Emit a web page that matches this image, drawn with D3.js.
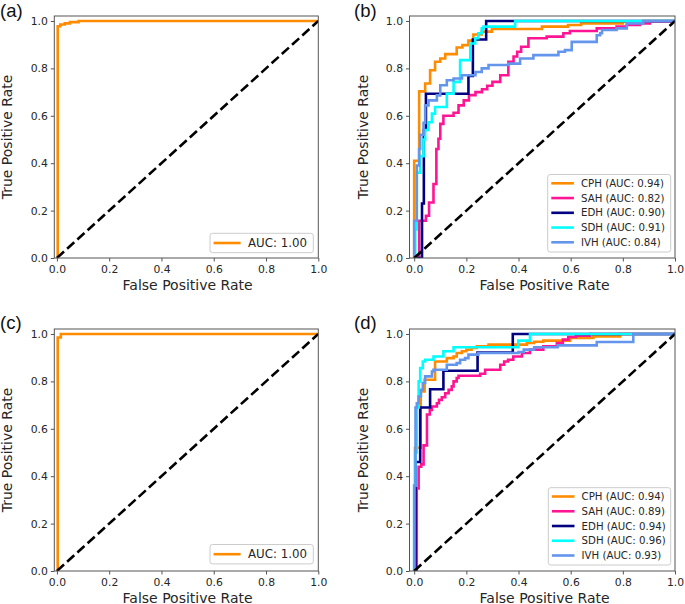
<!DOCTYPE html>
<html><head><meta charset="utf-8">
<script src="https://cdn.jsdelivr.net/npm/d3@7"></script>
<style>body{margin:0;background:#fff}svg{display:block}</style>
</head><body>
<svg id="chart" width="685" height="604"></svg>
<script>
// ---------- data (step points: fpr where tpr rises, tpr after the rise) ----------
const tickValues = [0.0, 0.2, 0.4, 0.6, 0.8, 1.0];
const xLabel = "False Positive Rate";
const yLabel = "True Positive Rate";
const classNames = ["CPH", "SAH", "EDH", "SDH", "IVH"];
const aucB = [0.94, 0.82, 0.90, 0.91, 0.84];
const aucD = [0.94, 0.89, 0.94, 0.96, 0.93];
const aucA = 1.00, aucC = 1.00;

const fprA = [0.003, 0.013, 0.030, 0.050, 0.083, 1.000];
const tprA = [0.978, 0.985, 0.990, 0.995, 1.000, 1.000];
const fprC = [0.003, 0.015, 1.000];
const tprC = [0.985, 1.000, 1.000];

const fprCPH_b = [0.000, 0.019, 0.042, 0.061, 0.080, 0.100, 0.119, 0.163, 0.185, 0.208, 0.227, 0.259, 0.298, 0.490, 0.590, 0.640, 0.800, 0.880, 1.000];
const tprCPH_b = [0.410, 0.703, 0.736, 0.792, 0.828, 0.842, 0.860, 0.888, 0.898, 0.917, 0.943, 0.955, 0.966, 0.976, 0.983, 0.990, 0.997, 1.000, 1.000];
const fprSAH_b = [0.019, 0.045, 0.057, 0.074, 0.085, 0.093, 0.100, 0.112, 0.151, 0.170, 0.190, 0.210, 0.235, 0.260, 0.280, 0.300, 0.330, 0.361, 0.381, 0.395, 0.410, 0.438, 0.508, 0.572, 0.597, 0.700, 0.776, 0.815, 0.866, 0.904, 1.000];
const tprSAH_b = [0.157, 0.178, 0.234, 0.312, 0.460, 0.503, 0.566, 0.600, 0.613, 0.644, 0.665, 0.687, 0.700, 0.712, 0.727, 0.743, 0.771, 0.828, 0.850, 0.870, 0.891, 0.927, 0.934, 0.948, 0.958, 0.969, 0.976, 0.983, 0.990, 0.997, 1.000];
const fprEDH_b = [0.030, 0.037, 0.045, 0.208, 0.225, 0.276, 1.000];
const tprEDH_b = [0.230, 0.540, 0.693, 0.768, 0.922, 1.000, 1.000];
const fprSDH_b = [0.004, 0.010, 0.023, 0.036, 0.042, 0.055, 0.068, 0.080, 0.125, 0.151, 0.176, 0.215, 0.234, 0.246, 0.259, 0.266, 0.387, 1.000];
const tprSDH_b = [0.120, 0.360, 0.430, 0.500, 0.540, 0.573, 0.609, 0.637, 0.693, 0.743, 0.835, 0.905, 0.927, 0.948, 0.969, 0.976, 1.000, 1.000];
const fprIVH_b = [0.000, 0.010, 0.019, 0.023, 0.036, 0.042, 0.055, 0.087, 0.100, 0.125, 0.151, 0.183, 0.235, 0.259, 0.285, 0.361, 0.406, 0.457, 0.553, 0.578, 0.604, 0.700, 0.713, 0.720, 0.776, 0.815, 0.878, 1.000];
const tprIVH_b = [0.157, 0.390, 0.460, 0.520, 0.570, 0.644, 0.665, 0.686, 0.729, 0.750, 0.757, 0.771, 0.785, 0.800, 0.814, 0.820, 0.842, 0.856, 0.870, 0.877, 0.912, 0.940, 0.948, 0.962, 0.969, 0.990, 1.000, 1.000];

const fprCPH_d = [0.003, 0.025, 0.040, 0.080, 0.125, 0.151, 0.163, 0.183, 0.200, 0.220, 0.240, 0.285, 0.432, 0.460, 0.495, 0.598, 0.687, 0.790, 1.000];
const tprCPH_d = [0.520, 0.757, 0.807, 0.884, 0.898, 0.905, 0.920, 0.927, 0.934, 0.941, 0.948, 0.955, 0.962, 0.967, 0.972, 0.983, 0.990, 1.000, 1.000];
const fprSAH_d = [0.010, 0.017, 0.027, 0.036, 0.049, 0.060, 0.068, 0.087, 0.095, 0.106, 0.119, 0.132, 0.144, 0.151, 0.163, 0.170, 0.253, 0.272, 0.330, 0.345, 0.360, 0.380, 0.413, 0.444, 0.495, 0.547, 0.570, 0.591, 0.620, 0.674, 1.000];
const tprSAH_d = [0.348, 0.440, 0.450, 0.530, 0.660, 0.680, 0.694, 0.708, 0.722, 0.733, 0.750, 0.764, 0.779, 0.800, 0.814, 0.824, 0.832, 0.849, 0.870, 0.884, 0.891, 0.905, 0.920, 0.934, 0.948, 0.962, 0.976, 0.987, 0.993, 1.000, 1.000];
const fprEDH_d = [0.005, 0.023, 0.061, 0.112, 0.243, 0.378, 1.000];
const tprEDH_d = [0.460, 0.690, 0.767, 0.845, 0.922, 1.000, 1.000];
const fprSDH_d = [0.000, 0.004, 0.010, 0.017, 0.023, 0.033, 0.042, 0.074, 0.112, 0.151, 0.399, 0.444, 1.000];
const tprSDH_d = [0.360, 0.500, 0.690, 0.800, 0.856, 0.884, 0.891, 0.905, 0.927, 0.944, 0.972, 1.000, 1.000];
const fprIVH_d = [0.000, 0.005, 0.010, 0.017, 0.026, 0.033, 0.042, 0.068, 0.074, 0.125, 0.163, 0.176, 0.195, 0.208, 0.246, 0.400, 0.420, 0.460, 0.550, 0.700, 0.840, 1.000];
const tprIVH_d = [0.360, 0.690, 0.708, 0.736, 0.764, 0.793, 0.821, 0.842, 0.849, 0.870, 0.877, 0.891, 0.898, 0.913, 0.920, 0.924, 0.934, 0.944, 0.952, 0.966, 1.000, 1.000];

const classColors = ["#FF8C00", "#FF1493", "#000080", "#00FFFF", "#6495ED"];

// ---------- layout ----------
const svg = d3.select("#chart");
const FONT = "'DejaVu Sans', sans-serif";
const textColor = "#262626";

const panels = [
  {label: "(a)", lx: 0, ly: 17, left: 54.3, right: 318.3, xmin: -0.01, top: 16, bottom: 258,
   series: [{f: fprA, t: tprA, c: classColors[0], name: "AUC: " + aucA.toFixed(2)}],
   legend: {x: 210, y: 233.3, w: 103.3, h: 19.4, font: 11.8, handle: 27, textOff: 38, row: 15}},
  {label: "(b)", lx: 354, ly: 17, left: 409.5, right: 675, xmin: -0.018, top: 16, bottom: 258,
   series: classNames.map((n, i) => ({f: [fprCPH_b, fprSAH_b, fprEDH_b, fprSDH_b, fprIVH_b][i], t: [tprCPH_b, tprSAH_b, tprEDH_b, tprSDH_b, tprIVH_b][i], c: classColors[i], name: n + " (AUC: " + aucB[i].toFixed(2) + ")"})),
   legend: {x: 547.7, y: 174.5, w: 123, h: 77.5, font: 10.2, handle: 22.6, textOff: 33.3, row: 14.75}},
  {label: "(c)", lx: 0, ly: 329, left: 54.3, right: 318.3, xmin: -0.01, top: 329, bottom: 571,
   series: [{f: fprC, t: tprC, c: classColors[0], name: "AUC: " + aucC.toFixed(2)}],
   legend: {x: 210, y: 544.5, w: 103.3, h: 19.4, font: 11.8, handle: 27, textOff: 38, row: 15}},
  {label: "(d)", lx: 354, ly: 329, left: 409.5, right: 675, xmin: -0.018, top: 329, bottom: 571,
   series: classNames.map((n, i) => ({f: [fprCPH_d, fprSAH_d, fprEDH_d, fprSDH_d, fprIVH_d][i], t: [tprCPH_d, tprSAH_d, tprEDH_d, tprSDH_d, tprIVH_d][i], c: classColors[i], name: n + " (AUC: " + aucD[i].toFixed(2) + ")"})),
   legend: {x: 548.3, y: 487.7, w: 122.4, h: 77.3, font: 10.2, handle: 22.6, textOff: 33.3, row: 14.75}}
];

panels.forEach(p => {
  const g = svg.append("g");
  const x = d3.scaleLinear().domain([p.xmin, 1.0]).range([p.left, p.right]);
  const y = d3.scaleLinear().domain([0, 1.021]).range([p.bottom, p.top]);

  const cid = "clip" + p.label.replace(/[()]/g, "");
  svg.append("defs").append("clipPath").attr("id", cid)
    .append("rect").attr("x", p.left).attr("y", p.top)
    .attr("width", p.right - p.left).attr("height", p.bottom - p.top);
  const plot = g.append("g").attr("clip-path", `url(#${cid})`);

  const line = d3.line().x(d => x(d[0])).y(d => y(d[1])).curve(d3.curveStepAfter);
  p.series.forEach(s => {
    const pts = [[0, 0]].concat(s.f.map((v, i) => [v, s.t[i]]));
    plot.append("path").datum(pts).attr("d", line)
      .attr("fill", "none").attr("stroke", s.c).attr("stroke-width", 2.6)
      .attr("stroke-linejoin", "miter");
  });
  plot.append("path").datum([[0, 0], [1, 1]])
    .attr("d", d3.line().x(d => x(d[0])).y(d => y(d[1])))
    .attr("fill", "none").attr("stroke", "#000").attr("stroke-width", 2.6)
    .attr("stroke-dasharray", "9.6,4.2");

  g.append("rect").attr("x", p.left).attr("y", p.top)
    .attr("width", p.right - p.left).attr("height", p.bottom - p.top)
    .attr("fill", "none").attr("stroke", "#555").attr("stroke-width", 1);

  const fmt = d3.format(".1f");
  const xa = g.append("g").attr("transform", `translate(0,${p.bottom})`)
    .call(d3.axisBottom(x).tickValues(tickValues).tickFormat(fmt).tickSize(3.5).tickPadding(3.5));
  const ya = g.append("g").attr("transform", `translate(${p.left},0)`)
    .call(d3.axisLeft(y).tickValues(tickValues).tickFormat(fmt).tickSize(3.5).tickPadding(3));
  [xa, ya].forEach(a => {
    a.select(".domain").remove();
    a.selectAll(".tick line").attr("stroke", "#555");
    a.selectAll(".tick text").attr("fill", textColor).style("font-family", FONT).style("font-size", "10.8px");
  });

  g.append("text").attr("x", (x(0) + x(1)) / 2).attr("y", p.bottom + 31.5)
    .attr("text-anchor", "middle").attr("fill", textColor)
    .style("font-family", FONT).style("font-size", "14px").text(xLabel);
  g.append("text").attr("transform", `translate(${p.left - 42},${(p.top + p.bottom) / 2}) rotate(-90)`)
    .attr("text-anchor", "middle").attr("fill", textColor)
    .style("font-family", FONT).style("font-size", "14px").text(yLabel);

  g.append("text").attr("x", p.lx).attr("y", p.ly)
    .attr("fill", "#111").style("font-family", "'Liberation Sans', Arial, sans-serif")
    .style("font-size", "18.5px").text(p.label);

  const L = p.legend;
  const lg = g.append("g");
  lg.append("rect").attr("x", L.x).attr("y", L.y).attr("width", L.w).attr("height", L.h)
    .attr("rx", 2.5).attr("fill", "#fff").attr("fill-opacity", 0.85)
    .attr("stroke", "#cccccc").attr("stroke-width", 1);
  p.series.forEach((s, i) => {
    const cy = L.y + 8.8 + (L.font > 11 ? 0.9 : 0) + i * L.row;
    lg.append("line").attr("x1", L.x + 3.6).attr("x2", L.x + 3.6 + L.handle)
      .attr("y1", cy).attr("y2", cy).attr("stroke", s.c).attr("stroke-width", 2.6);
    lg.append("text").attr("x", L.x + L.textOff).attr("y", cy).attr("dy", "0.36em")
      .attr("fill", textColor).style("font-family", FONT).style("font-size", L.font + "px")
      .text(s.name);
  });
});
</script>
</body></html>
